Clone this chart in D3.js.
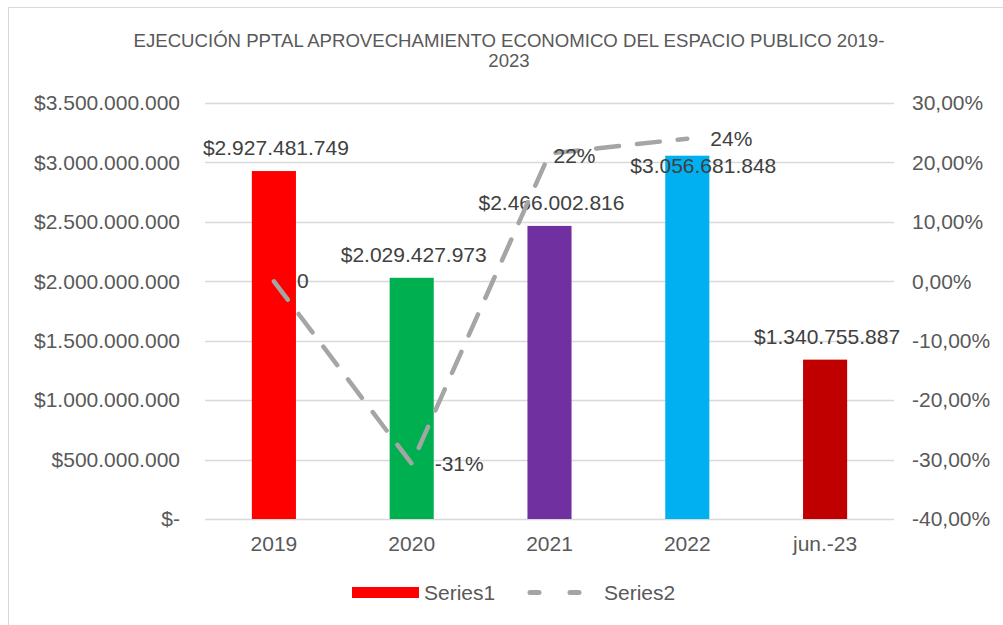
<!DOCTYPE html>
<html>
<head>
<meta charset="utf-8">
<script src="https://cdn.jsdelivr.net/npm/d3@7"></script>
<style>
  body { margin: 0; background: #fff; }
  text { font-family: "Liberation Sans", Arial, sans-serif; }
</style>
</head>
<body>
<svg width="1003" height="625"></svg>
<script>
// chart data
var categories = ["2019", "2020", "2021", "2022", "jun.-23"];
var series1 = [2927481749, 2029427973, 2466002816, 3056681848, 1340755887];
var series2 = [0, -0.307, 0.215, 0.24, null];
var series2Labels = ["0", "-31%", "22%", "24%", null];
var barColors = ["#FF0000", "#00B050", "#7030A0", "#00B0F0", "#C00000"];
var leftTicks = [0, 5e8, 1e9, 1.5e9, 2e9, 2.5e9, 3e9, 3.5e9];
var rightTicks = [-0.4, -0.3, -0.2, -0.1, 0, 0.1, 0.2, 0.3];

var svg = d3.select("svg"),
    plotL = 205, plotR = 894, plotT = 103, plotB = 519,
    fs = "21px";

var loc = d3.formatLocale({decimal: ",", thousands: ".", grouping: [3], currency: ["$", ""], minus: "-"});
var fmtMoney = loc.format("$,.0f"),
    fmtPct = loc.format(".2%");

// frame
svg.append("rect")
    .attr("x", 8.5).attr("y", 7.5)
    .attr("width", 1010).attr("height", 630)
    .attr("fill", "#fff").attr("stroke", "#d9d9d9");

svg.append("text")
    .attr("x", 509).attr("y", 47)
    .attr("text-anchor", "middle")
    .attr("fill", "#595959")
    .style("font-size", "18.6px")
    .text("EJECUCIÓN PPTAL APROVECHAMIENTO ECONOMICO DEL ESPACIO PUBLICO 2019-");
svg.append("text")
    .attr("x", 509).attr("y", 67)
    .attr("text-anchor", "middle")
    .attr("fill", "#595959")
    .style("font-size", "18.6px")
    .text("2023");

var x = d3.scaleBand().domain(categories).range([plotL, plotR])
    .paddingInner(0.68).paddingOuter(0.34);
var yL = d3.scaleLinear().domain([0, 3.5e9]).range([plotB, plotT]);
var yR = d3.scaleLinear().domain([-0.4, 0.3]).range([plotB, plotT]);

// gridlines
svg.append("g").selectAll("line")
  .data(leftTicks)
  .enter().append("line")
    .attr("x1", plotL).attr("x2", plotR)
    .attr("y1", function(d) { return Math.round(yL(d)) + 0.5; })
    .attr("y2", function(d) { return Math.round(yL(d)) + 0.5; })
    .attr("stroke", "#d9d9d9").attr("stroke-width", 1.5);

var axisL = svg.append("g")
    .attr("transform", "translate(" + plotL + ",0)")
    .call(d3.axisLeft(yL).tickValues(leftTicks).tickSize(0).tickPadding(25)
      .tickFormat(function(d) { return d === 0 ? "$-" : fmtMoney(d); }));
var axisR = svg.append("g")
    .attr("transform", "translate(" + plotR + ",0)")
    .call(d3.axisRight(yR).tickValues(rightTicks).tickSize(0).tickPadding(18)
      .tickFormat(function(d) { return fmtPct(d); }));
var axisB = svg.append("g")
    .attr("transform", "translate(0," + plotB + ")")
    .call(d3.axisBottom(x).tickSize(0).tickPadding(17));

[axisL, axisR, axisB].forEach(function(a) {
  a.select(".domain").remove();
  a.selectAll("text").attr("fill", "#595959").style("font-size", fs);
});

// bars
svg.append("g").selectAll("rect")
  .data(series1)
  .enter().append("rect")
    .attr("x", function(d, i) { return x(categories[i]); })
    .attr("y", function(d) { return yL(d); })
    .attr("width", x.bandwidth())
    .attr("height", function(d) { return plotB - yL(d); })
    .attr("fill", function(d, i) { return barColors[i]; });

// bar labels (2022 label was moved down/right in the original)
svg.append("g").selectAll("text")
  .data(series1)
  .enter().append("text")
    .attr("x", function(d, i) { return x(categories[i]) + x.bandwidth() / 2 + (i === 3 ? 16 : 2); })
    .attr("y", function(d, i) { return yL(d) + (i === 3 ? 17 : -16); })
    .attr("text-anchor", "middle")
    .attr("fill", "#404040")
    .style("font-size", fs)
    .text(function(d) { return fmtMoney(d); });

// line series
var pts = series2.map(function(v, i) { return {cat: categories[i], v: v, label: series2Labels[i]}; })
    .filter(function(d) { return d.v !== null; });

var line = d3.line()
    .x(function(d) { return x(d.cat) + x.bandwidth() / 2; })
    .y(function(d) { return yR(d.v); });

svg.append("path")
    .datum(pts)
    .attr("d", line)
    .attr("fill", "none")
    .attr("stroke", "#A5A5A5")
    .attr("stroke-width", 4.5)
    .attr("stroke-linecap", "round")
    .attr("stroke-dasharray", "23,18");

svg.append("g").selectAll("text")
  .data(pts)
  .enter().append("text")
    .attr("x", function(d, i) { return x(d.cat) + x.bandwidth() / 2 + (i === 2 ? 4 : 23); })
    .attr("y", function(d, i) { return yR(d.v) + (i === 2 ? 9 : 7); })
    .attr("fill", "#404040")
    .style("font-size", fs)
    .text(function(d) { return d.label; });

// legend
var lg = svg.append("g");
lg.append("rect").attr("x", 352).attr("y", 587).attr("width", 67).attr("height", 11).attr("fill", barColors[0]);
lg.append("text").attr("x", 424).attr("y", 600).attr("fill", "#595959").style("font-size", fs).text("Series1");
lg.selectAll("line.dash")
  .data([528, 568])
  .enter().append("line")
    .attr("x1", function(d) { return d + 2; }).attr("x2", function(d) { return d + 11; })
    .attr("y1", 592.5).attr("y2", 592.5)
    .attr("stroke", "#A5A5A5").attr("stroke-width", 5).attr("stroke-linecap", "round");
lg.append("text").attr("x", 604).attr("y", 600).attr("fill", "#595959").style("font-size", fs).text("Series2");
</script>
</body>
</html>
